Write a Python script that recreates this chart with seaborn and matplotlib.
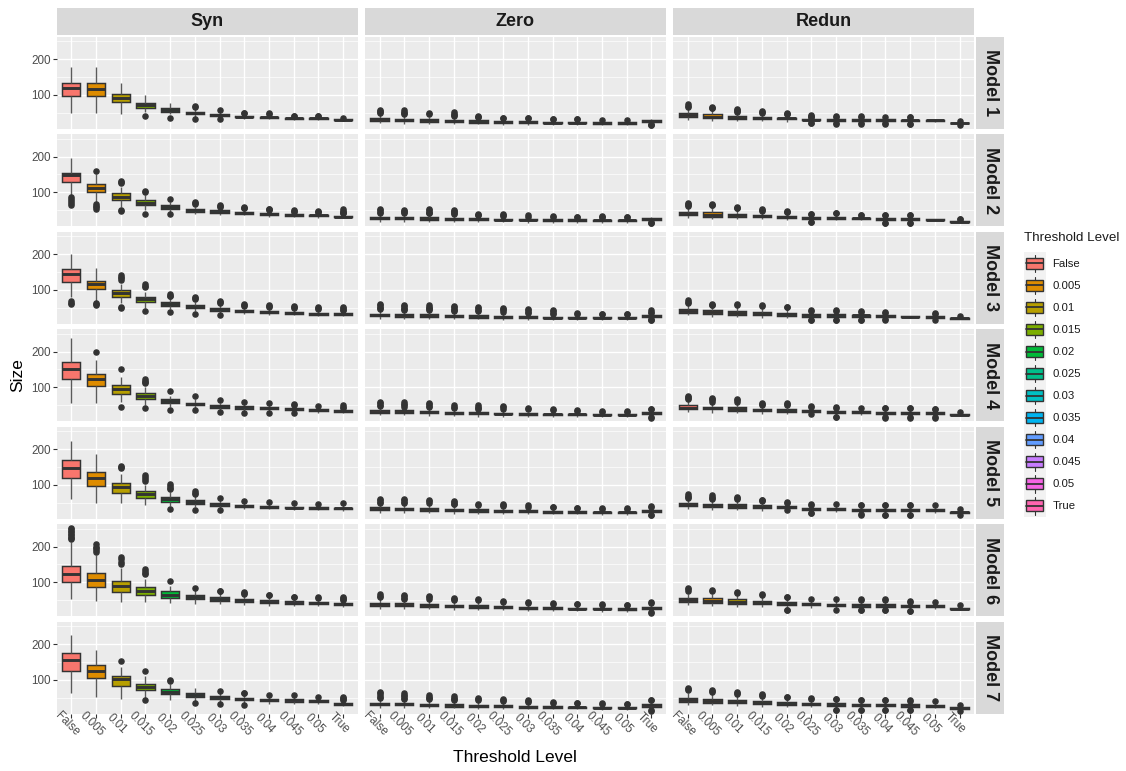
import numpy as np
import pandas as pd
import matplotlib
matplotlib.use("Agg")
import matplotlib.pyplot as plt
from matplotlib.patches import Rectangle, Patch
from matplotlib.lines import Line2D
from matplotlib.legend_handler import HandlerBase
import seaborn as sns

# ---------------- data ----------------
LEVELS = ["False", "0.005", "0.01", "0.015", "0.02", "0.025", "0.03",
          "0.035", "0.04", "0.045", "0.05", "True"]
COLORS = ["#F8766D", "#DE8C00", "#B79F00", "#7CAE00", "#00BA38", "#00C08B",
          "#00BFC4", "#00B4F0", "#619CFF", "#C77CFF", "#F564E3", "#FF64B0"]
TYPES = ["Syn", "Zero", "Redun"]
MODELS = ["Model 1", "Model 2", "Model 3", "Model 4", "Model 5", "Model 6", "Model 7"]

# each box: (lower whisker, Q1, median, Q3, upper whisker, outliers)
SYN_M1 = [(49, 97, 118, 133, 178, []), (49, 97, 117, 133, 178, []),
          (47, 79, 91, 101, 133, []), (52, 63, 71, 78, 99, [40]),
          (45, 52, 57, 62, 77, [34]), (38, 45, 48, 52, 60, [66, 68, 32]),
          (34, 41, 43, 47, 55, [57, 31]), (33, 37, 39, 41, 46, [48, 49]),
          (31, 35, 37, 39, 45, [46, 48]), (29, 32, 34, 35, 39, [40, 41]),
          (29, 32, 34, 35, 39, [40, 41]), (26, 28, 30, 31, 34, [36])]
SYN_M2 = [(91, 128, 148, 155, 195, [86, 80, 77, 70, 63]),
          (72, 101, 112, 123, 150, [160, 66, 62, 58, 54]),
          (60, 79, 88, 97, 115, [132, 128, 125, 50, 47]),
          (50, 64, 71, 79, 92, [104, 102, 40]), (44, 54, 59, 64, 74, [80, 38]),
          (40, 45, 50, 54, 60, [72, 70, 68]), (36, 42, 45, 49, 55, [63, 61, 60]),
          (36, 40, 43, 46, 52, [59, 57, 56]), (32, 36, 38, 41, 46, [54, 52, 50]),
          (30, 34, 36, 38, 42, [50, 48, 46]), (29, 33, 35, 37, 41, [48, 46, 44]),
          (28, 31, 32, 34, 37, [52, 48, 45, 42, 41])]
SYN_M3 = [(81, 123, 145, 158, 199, [68, 64, 60]),
          (70, 102, 116, 126, 161, [64, 60, 56]),
          (62, 81, 91, 99, 115, [141, 136, 132, 128, 52, 50]),
          (50, 65, 73, 81, 95, [116, 112, 108, 40]),
          (45, 55, 60, 65, 76, [88, 84, 82, 38]),
          (40, 48, 53, 58, 66, [81, 78, 75, 32]),
          (34, 41, 45, 49, 56, [69, 66, 63, 28]),
          (32, 37, 41, 43, 50, [60, 57, 54]), (30, 34, 37, 40, 46, [58, 54, 51]),
          (28, 31, 34, 37, 43, [55, 51, 48]), (26, 29, 32, 35, 41, [53, 49, 46]),
          (27, 30, 32, 34, 39, [53, 48, 44, 42])]
SYN_M4 = [(56, 122, 151, 172, 238, []), (57, 104, 122, 136, 176, [200]),
          (58, 82, 94, 106, 129, [150, 44]),
          (49, 68, 76, 85, 100, [123, 118, 114, 112, 41]),
          (44, 57, 61, 68, 77, [90, 37]), (40, 49, 54, 57, 66, [75, 36]),
          (36, 43, 47, 50, 57, [63, 31]), (34, 40, 44, 47, 54, [59, 29]),
          (32, 38, 41, 44, 50, [55, 28]), (31, 36, 39, 41, 47, [52, 50, 28]),
          (29, 34, 37, 39, 45, [48]), (28, 31, 33, 35, 40, [49, 46, 43])]
SYN_M5 = [(61, 119, 146, 169, 224, []), (50, 97, 119, 136, 187, []),
          (49, 78, 93, 105, 130, [153, 150, 147]),
          (42, 64, 73, 82, 100, [128, 122, 116, 112]),
          (40, 53, 60, 66, 80, [102, 96, 90, 87, 33]),
          (38, 46, 51, 57, 68, [82, 78, 75, 29]),
          (34, 41, 46, 49, 58, [63, 28]), (33, 38, 41, 43, 49, [55]),
          (31, 35, 38, 40, 46, [53]), (30, 34, 36, 39, 45, [49]),
          (28, 32, 35, 37, 43, [46]), (27, 31, 34, 36, 42, [49])]
SYN_M6 = [(54, 100, 122, 147, 214, [220, 224, 228, 232, 236, 240, 244, 248, 252]),
          (48, 86, 106, 125, 176, [207, 200, 195, 190, 186]),
          (46, 73, 89, 104, 140, [172, 165, 158, 152]),
          (46, 63, 75, 87, 110, [136, 131, 127, 124]),
          (43, 56, 65, 75, 90, [105]), (40, 52, 58, 64, 78, [85]),
          (38, 48, 53, 58, 70, [77, 75]), (36, 44, 49, 53, 62, [72, 70, 68]),
          (34, 42, 46, 50, 58, [65, 63]), (33, 40, 43, 47, 54, [60, 58]),
          (33, 40, 43, 46, 52, [58, 56]), (31, 36, 39, 41, 47, [60, 56, 52, 50])]
SYN_M7 = [(63, 126, 156, 175, 226, []), (53, 105, 125, 141, 184, []),
          (46, 84, 102, 111, 135, [154]), (50, 72, 81, 89, 112, [126, 42]),
          (42, 59, 66, 74, 88, [100, 98]), (40, 52, 57, 62, 76, [36]),
          (38, 47, 52, 55, 64, [70, 33]), (34, 42, 47, 50, 58, [64, 63, 29]),
          (33, 40, 44, 47, 55, [58]), (32, 38, 42, 45, 52, [56]),
          (31, 37, 40, 43, 49, [53]), (27, 30, 33, 35, 41, [53, 50, 47, 44])]

ZERO_M1 = [(20, 27, 31, 36, 46, [58, 55, 52, 50]), (19, 26, 29, 33, 42, [57, 53, 49, 45]),
           (18, 25, 28, 31, 39, [48, 45]), (18, 24, 27, 30, 38, [51, 47, 43, 40]),
           (17, 22, 25, 28, 35, [41, 39, 38]), (16, 21, 24, 26, 32, [36, 34]),
           (16, 21, 23, 26, 32, [35, 34]), (15, 20, 22, 24, 29, [32, 31]),
           (15, 20, 22, 24, 29, [32, 31]), (15, 19, 21, 23, 28, [30]),
           (15, 19, 21, 23, 28, [30]), (21, 25, 27, 29, 33, [18, 16, 15])]
ZERO_M2 = [(18, 25, 28, 32, 41, [52, 49, 46, 43]), (18, 25, 28, 31, 39, [50, 47, 44, 41]),
           (17, 23, 26, 30, 38, [52, 49, 46, 43, 41]), (17, 23, 26, 29, 36, [50, 47, 44, 41, 39]),
           (16, 22, 24, 27, 33, [40, 37, 35]), (16, 21, 23, 26, 31, [38, 35, 34]),
           (15, 21, 23, 25, 30, [35, 32]), (15, 20, 22, 24, 29, [33, 31]),
           (15, 20, 22, 24, 29, [32, 31]), (14, 19, 21, 23, 28, [33, 31, 30]),
           (14, 19, 21, 23, 27, [31, 30]), (20, 23, 25, 27, 30, [16, 15, 13])]
ZERO_M3 = [(19, 26, 29, 33, 43, [61, 57, 53, 49, 46]), (19, 25, 28, 32, 42, [58, 54, 50, 46, 44]),
           (18, 24, 27, 31, 40, [57, 53, 49, 45, 42]), (17, 23, 26, 29, 37, [55, 51, 47, 43, 40]),
           (17, 22, 25, 28, 35, [52, 48, 44, 40]), (16, 21, 24, 27, 33, [48, 45, 42, 39]),
           (16, 21, 24, 26, 32, [46, 42, 38, 35]), (15, 20, 22, 25, 30, [44, 40, 36, 33]),
           (15, 20, 22, 24, 29, [34, 32]), (15, 20, 22, 24, 28, [32, 31]),
           (15, 20, 22, 24, 28, [32, 31]), (22, 25, 27, 29, 32, [42, 38, 36, 18, 16, 14])]
ZERO_M4 = [(22, 29, 32, 36, 45, [59, 55, 51, 47]), (21, 28, 31, 35, 44, [58, 54, 50, 46]),
           (20, 27, 30, 33, 41, [56, 52, 48, 44]), (19, 26, 29, 32, 40, [50, 46, 43]),
           (18, 24, 27, 30, 37, [49, 45, 41, 40]), (18, 24, 26, 29, 35, [48, 44, 40]),
           (17, 23, 25, 27, 32, [42, 39]), (17, 22, 24, 26, 31, [38, 35]),
           (16, 22, 24, 26, 30, [35, 34]), (16, 21, 23, 25, 30, [34, 32]),
           (16, 21, 23, 25, 29, [33, 32]), (21, 25, 28, 30, 34, [40, 38, 17, 15])]
ZERO_M5 = [(22, 29, 33, 37, 46, [60, 56, 52, 50]), (21, 28, 32, 36, 45, [61, 57, 53, 49]),
           (20, 27, 31, 35, 44, [58, 54, 50]), (19, 26, 29, 33, 42, [55, 51, 47, 45]),
           (19, 25, 28, 31, 38, [45, 43]), (18, 24, 27, 30, 37, [46, 43, 41]),
           (18, 23, 26, 28, 34, [42, 39]), (17, 22, 25, 27, 33, [38, 37]),
           (17, 22, 24, 26, 31, [35, 34]), (16, 21, 23, 25, 30, [35, 33]),
           (16, 21, 23, 25, 30, [34, 32]), (20, 24, 27, 29, 33, [40, 37, 16, 14])]
ZERO_M6 = [(26, 34, 38, 43, 54, [66, 62, 58]), (25, 33, 37, 41, 52, [65, 61, 57, 54]),
           (24, 31, 35, 39, 49, [62, 58, 54]), (23, 30, 33, 37, 46, [55, 52, 49]),
           (22, 28, 31, 35, 44, [52, 49]), (21, 27, 30, 33, 41, [48, 45]),
           (20, 26, 28, 31, 38, [45, 42]), (19, 25, 27, 30, 37, [43, 40]),
           (19, 24, 26, 29, 36, [40, 38]), (18, 24, 26, 28, 34, [38, 36]),
           (18, 23, 25, 27, 33, [37, 36]), (22, 26, 29, 32, 38, [46, 42, 16, 14])]
ZERO_M7 = [(22, 28, 32, 36, 46, [67, 62, 57, 52, 49]), (21, 28, 31, 35, 44, [63, 58, 54, 50, 47]),
           (20, 26, 29, 33, 42, [57, 53, 49, 45]), (20, 25, 28, 32, 41, [54, 50, 46, 43]),
           (19, 24, 27, 30, 38, [50, 46, 42]), (18, 23, 26, 29, 36, [47, 43, 40]),
           (18, 22, 25, 27, 33, [44, 40, 37]), (17, 21, 24, 26, 32, [38, 36]),
           (17, 21, 23, 25, 30, [36, 34]), (16, 20, 22, 24, 29, [34, 32]),
           (16, 20, 22, 24, 29, [33, 31]), (21, 25, 28, 31, 36, [44, 42, 15, 13])]

REDUN_M1 = [(30, 38, 42, 49, 62, [74, 70, 67]), (27, 34, 39, 45, 58, [66, 64, 62]),
            (26, 33, 36, 40, 48, [61, 58, 55, 52]), (26, 32, 35, 38, 45, [55, 52, 49]),
            (25, 31, 34, 36, 42, [50, 47, 45]), (24, 28, 30, 31, 35, [43, 41, 39, 37, 22, 20]),
            (22, 27, 29, 31, 36, [40, 38, 20, 19]), (22, 27, 29, 31, 36, [40, 38, 20, 19]),
            (22, 27, 29, 31, 35, [39, 37, 20, 19]), (22, 26, 28, 30, 34, [38, 37, 19, 18]),
            (24, 27, 28, 29, 30, []), (19, 20, 21, 22, 23, [26, 16])]
REDUN_M2 = [(29, 36, 40, 46, 58, [71, 67, 63, 62]), (26, 32, 37, 44, 56, [66, 64, 63]),
            (25, 31, 35, 40, 52, [59, 57, 55]), (24, 30, 33, 37, 45, [52, 50, 48]),
            (22, 28, 31, 34, 41, [47, 45, 44]), (22, 26, 28, 31, 36, [40, 39, 18, 17]),
            (21, 25, 28, 31, 37, [42, 41]), (21, 25, 27, 29, 33, [37, 36]),
            (19, 23, 26, 28, 33, [37, 36, 15, 14]), (19, 23, 26, 28, 33, [37, 36, 15, 14]),
            (21, 22, 23, 24, 25, []), (16, 17, 18, 19, 20, [26, 24])]
REDUN_M3 = [(28, 35, 40, 46, 58, [71, 67, 64]), (25, 33, 37, 42, 54, [61, 58, 56]),
            (23, 29, 34, 40, 52, [60, 57]), (22, 28, 33, 38, 48, [56, 54]),
            (22, 27, 31, 36, 45, [53, 51]), (21, 25, 28, 31, 37, [42, 41, 15, 14]),
            (21, 25, 28, 31, 37, [42, 41, 15, 14]), (21, 25, 28, 30, 36, [40, 38, 16, 14]),
            (21, 25, 27, 29, 33, [37, 36, 18, 16]), (22, 23, 25, 26, 27, []),
            (20, 22, 24, 26, 28, [34, 33, 15]), (17, 19, 21, 22, 24, [27])]
REDUN_M4 = [(30, 39, 42, 50, 62, [76, 73, 70, 68]), (29, 38, 41, 46, 56, [71, 67, 63, 60]),
            (27, 34, 38, 44, 55, [66, 63, 60]), (25, 33, 36, 40, 48, [57, 54, 51]),
            (24, 31, 34, 38, 46, [55, 52, 49]), (24, 31, 33, 35, 40, [47, 44]),
            (21, 27, 30, 33, 39, [44, 43, 17, 16]), (22, 29, 32, 34, 40, [42]),
            (20, 26, 29, 32, 38, [43, 42, 16, 15]), (20, 26, 29, 32, 38, [43, 42, 16, 15]),
            (20, 26, 28, 31, 37, [40, 39, 16, 15]), (19, 22, 23, 25, 27, [31])]
REDUN_M5 = [(31, 40, 44, 49, 60, [73, 70, 67, 64]), (30, 39, 42, 47, 57, [71, 67, 63, 60]),
            (28, 36, 40, 45, 55, [66, 62, 59]), (26, 34, 37, 42, 51, [58, 56, 55]),
            (28, 36, 38, 40, 45, [52, 48]), (24, 30, 32, 35, 41, [45, 44, 21, 20]),
            (24, 29, 32, 35, 40, [45]), (22, 27, 30, 33, 39, [44, 43, 17, 16]),
            (21, 26, 29, 32, 38, [43, 42, 16, 15]), (21, 26, 29, 32, 38, [43, 42, 16, 15]),
            (22, 26, 29, 32, 37, [42]), (18, 21, 23, 25, 29, [32, 14])]
REDUN_M6 = [(36, 45, 50, 57, 68, [83, 80, 77]), (34, 42, 48, 55, 67, [78, 76]),
            (32, 40, 45, 52, 63, [73, 71]), (30, 38, 43, 48, 60, [67, 65]),
            (30, 36, 40, 45, 54, [60, 59, 22, 21]), (29, 35, 38, 42, 49, [53]),
            (27, 33, 36, 40, 47, [52, 22]), (26, 32, 35, 38, 46, [52, 50, 22, 21]),
            (26, 32, 35, 38, 46, [52, 50, 22, 21]), (25, 30, 33, 36, 43, [48, 46, 20, 19]),
            (26, 31, 33, 36, 42, [46]), (21, 24, 26, 28, 31, [35])]
REDUN_M7 = [(30, 37, 42, 50, 63, [77, 74, 71]), (28, 35, 40, 47, 60, [72, 69, 66]),
            (27, 34, 38, 43, 55, [67, 63, 59]), (25, 31, 35, 40, 51, [60, 57, 54]),
            (24, 29, 33, 38, 47, [53, 52]), (24, 29, 32, 36, 44, [50, 47]),
            (22, 27, 30, 34, 40, [46, 45, 16, 15]), (21, 26, 29, 32, 38, [44, 42, 16, 15]),
            (21, 26, 29, 32, 38, [43, 42, 16, 15]), (20, 25, 28, 31, 37, [42, 41, 15, 14]),
            (21, 25, 27, 30, 35, [40]), (17, 19, 21, 23, 25, [30, 12])]

PANELS = {
    "Syn": [SYN_M1, SYN_M2, SYN_M3, SYN_M4, SYN_M5, SYN_M6, SYN_M7],
    "Zero": [ZERO_M1, ZERO_M2, ZERO_M3, ZERO_M4, ZERO_M5, ZERO_M6, ZERO_M7],
    "Redun": [REDUN_M1, REDUN_M2, REDUN_M3, REDUN_M4, REDUN_M5, REDUN_M6, REDUN_M7],
}


def box_sample(box):
    """Observation set whose quartiles / whiskers / outliers equal the read values."""
    lo, q1, med, q3, hi, outs = box
    return [lo] + [q1] * 30 + [med] * 20 + [q3] * 30 + [hi] + list(outs)


def panel_frame(boxes):
    rows = []
    for lev, box in zip(LEVELS, boxes):
        for v in box_sample(box):
            rows.append((lev, v))
    return pd.DataFrame(rows, columns=["level", "size"])


# ---------------- style ----------------
sns.set_theme(style="darkgrid")
plt.rcParams["font.family"] = ["Liberation Sans", "DejaVu Sans"]

W, H = 1126, 771
fig = plt.figure(figsize=(W / 100, H / 100), dpi=100)
fig.patch.set_facecolor("white")


def fx(px):
    return px / W


def fy(py):
    return 1 - py / H


PANEL_L0, PANEL_W, PANEL_GX = 56.5, 301.5, 6.7
PANEL_T0, PANEL_H, PANEL_GY = 36.7, 91.9, 5.6
palette = dict(zip(LEVELS, COLORS))
TXT_AX = "#4D4D4D"

for c, typ in enumerate(TYPES):
    for r, model in enumerate(MODELS):
        left = PANEL_L0 + c * (PANEL_W + PANEL_GX)
        top = PANEL_T0 + r * (PANEL_H + PANEL_GY)
        ax = fig.add_axes([fx(left), fy(top + PANEL_H), PANEL_W / W, PANEL_H / H])
        df = panel_frame(PANELS[typ][r])
        sns.boxplot(data=df, x="level", y="size", hue="level", order=LEVELS,
                    hue_order=LEVELS, palette=palette, saturation=1, dodge=False,
                    width=0.74, linewidth=1.05, linecolor="#333333", showcaps=False,
                    legend=False, ax=ax,
                    flierprops=dict(marker="o", markerfacecolor="#333333",
                                    markeredgecolor="#333333", markersize=3.7),
                    medianprops=dict(color="#333333", linewidth=2.1),
                    whiskerprops=dict(color="#5a5a5a", linewidth=1.0))
        ax.set_facecolor("#EBEBEB")
        for s in ax.spines.values():
            s.set_visible(False)
        ax.set_xlim(-0.6, 11.6)
        ax.set_ylim(5.3, 262.7)
        ax.set_yticks([100, 200])
        ax.set_yticks([50, 150, 250], minor=True)
        ax.set_axisbelow(True)
        ax.grid(which="major", color="white", linewidth=1.0)
        ax.grid(which="minor", axis="y", color="white", linewidth=0.5)
        ax.grid(which="minor", axis="x", visible=False)
        ax.set_xlabel("")
        ax.set_ylabel("")
        ax.tick_params(which="minor", length=0)
        ax.tick_params(which="major", length=2.7, width=0.8, color="#333333",
                       labelsize=8.4, labelcolor=TXT_AX, pad=1.5)
        if c != 0:
            ax.tick_params(axis="y", left=False, labelleft=False)
        else:
            ax.tick_params(axis="y", left=True)
            ax.set_yticklabels(["100", "200"])
        if r != len(MODELS) - 1:
            ax.tick_params(axis="x", bottom=False, labelbottom=False)
        else:
            ax.tick_params(axis="x", bottom=True)
            ax.set_xticks(range(len(LEVELS)))
            ax.set_xticklabels(LEVELS, rotation=-45, rotation_mode="anchor",
                               ha="center", va="top")

        # strips
        if r == 0:
            fig.add_artist(Rectangle((fx(left), fy(35.0)), PANEL_W / W, 27.5 / H,
                                     transform=fig.transFigure, facecolor="#D9D9D9",
                                     edgecolor="none"))
            fig.text(fx(left + PANEL_W / 2), fy(21.3), typ, ha="center", va="center",
                     fontsize=13, fontweight="bold", color="#1A1A1A")
        if c == len(TYPES) - 1:
            sx = left + PANEL_W + 2.0
            fig.add_artist(Rectangle((fx(sx), fy(top + PANEL_H)), 27.5 / W, PANEL_H / H,
                                     transform=fig.transFigure, facecolor="#D9D9D9",
                                     edgecolor="none"))
            fig.text(fx(sx + 13.75), fy(top + PANEL_H / 2), model, ha="center",
                     va="center", rotation=-90, fontsize=13, fontweight="bold",
                     color="#1A1A1A")

# axis titles
fig.text(fx(17.5), fy(375), "Size", rotation=90, ha="center", va="center",
         fontsize=12.5, color="black")
fig.text(fx(515), fy(758), "Threshold Level", ha="center", va="center",
         fontsize=12.5, color="black")


# legend with ggplot-like boxplot keys
class BoxKeyHandler(HandlerBase):
    def create_artists(self, legend, orig_handle, xdescent, ydescent, width,
                       height, fontsize, trans):
        x0, y0 = -xdescent, -ydescent
        col = orig_handle.get_facecolor()
        bg = Rectangle((x0, y0 - 0.5), width, height + 1.0, facecolor="#F2F2F2",
                       edgecolor="none", transform=trans)
        bx = Rectangle((x0 + 0.125 * width, y0 + 0.25 * height), 0.75 * width,
                       0.5 * height, facecolor=col, edgecolor="#333333",
                       linewidth=1.0, transform=trans)
        med = Line2D([x0 + 0.125 * width, x0 + 0.875 * width],
                     [y0 + 0.5 * height] * 2, color="#333333", linewidth=1.3,
                     transform=trans)
        w1 = Line2D([x0 + 0.5 * width] * 2, [y0 + 0.1 * height, y0 + 0.25 * height],
                    color="#333333", linewidth=0.8, transform=trans)
        w2 = Line2D([x0 + 0.5 * width] * 2, [y0 + 0.75 * height, y0 + 0.9 * height],
                    color="#333333", linewidth=0.8, transform=trans)
        return [bg, bx, med, w1, w2]


handles = [Patch(facecolor=palette[l]) for l in LEVELS]
leg = fig.legend(handles=handles, labels=LEVELS,
                 handler_map={Patch: BoxKeyHandler()},
                 loc="upper left", bbox_to_anchor=(fx(1023.5), fy(232)),
                 title="Threshold Level", title_fontsize=9.6, fontsize=8.2,
                 frameon=False, handlelength=2.0, handleheight=2.6,
                 labelspacing=0.0, handletextpad=0.55, borderpad=0.0,
                 borderaxespad=0.0)
leg._legend_box.align = "left"
leg._legend_box.sep = 6
for t in leg.get_texts():
    t.set_color("#1A1A1A")
leg.get_title().set_color("#1A1A1A")

fig.savefig("out.png", dpi=100, facecolor="white")
